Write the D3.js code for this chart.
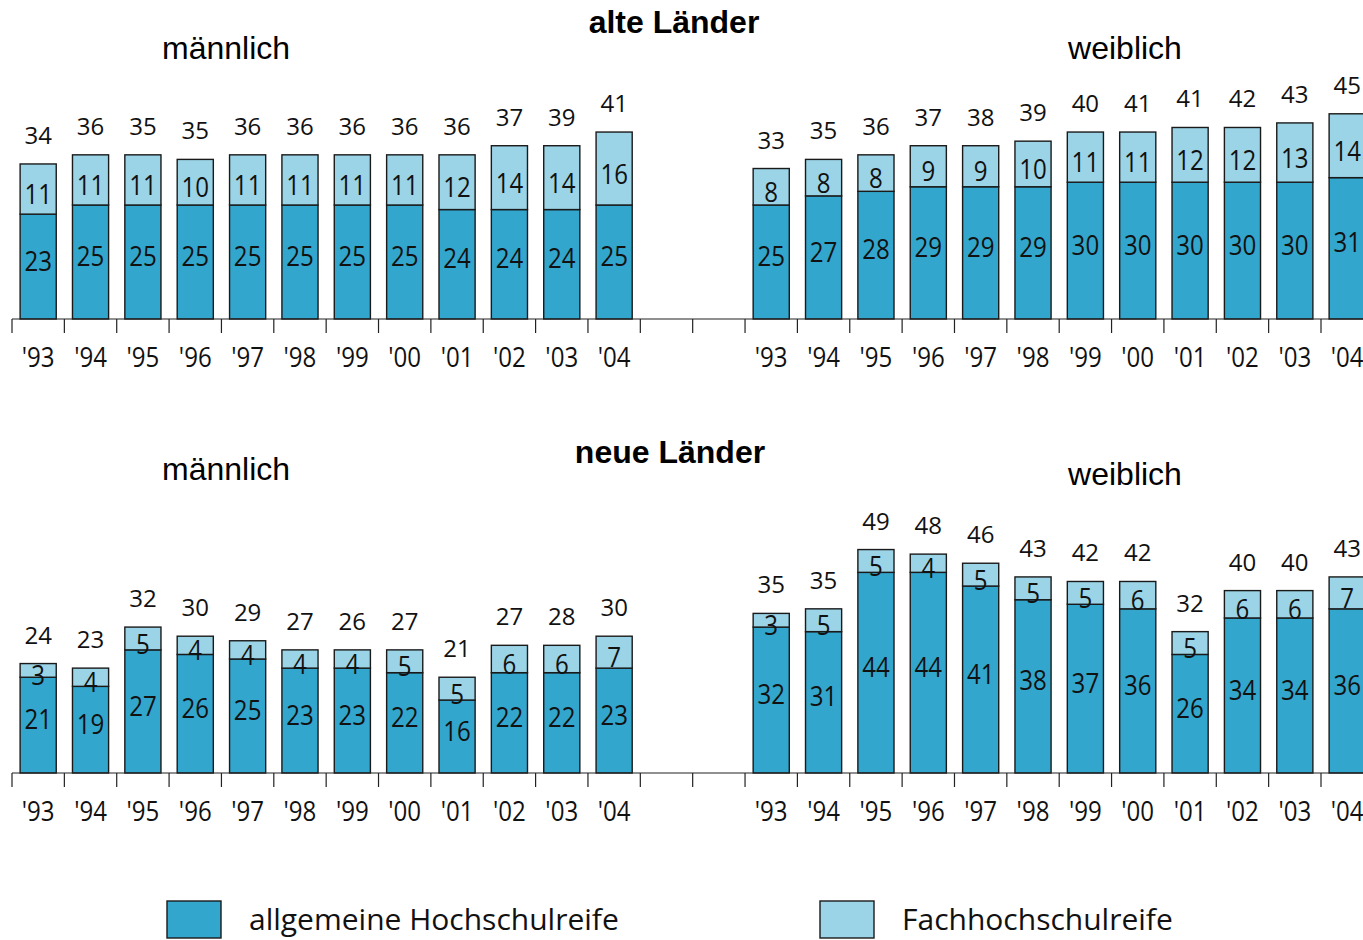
<!DOCTYPE html>
<html>
<head>
<meta charset="utf-8">
<script src="https://cdn.jsdelivr.net/npm/d3@7"></script>
<style>
  body { margin: 0; background: #fff; }
  svg { display: block; }
</style>
</head>
<body>
<svg id="chart"></svg>
<script>
var years = ["'93","'94","'95","'96","'97","'98","'99","'00","'01","'02","'03","'04"];
var seriesNames = ["allgemeine Hochschulreife", "Fachhochschulreife"];

// alte Länder
var alteMAllg  = [23,25,25,25,25,25,25,25,24,24,24,25];
var alteMFach  = [11,11,11,10,11,11,11,11,12,14,14,16];
var alteMTotal = [34,36,35,35,36,36,36,36,36,37,39,41];
var alteWAllg  = [25,27,28,29,29,29,30,30,30,30,30,31];
var alteWFach  = [8,8,8,9,9,10,11,11,12,12,13,14];
var alteWTotal = [33,35,36,37,38,39,40,41,41,42,43,45];

// neue Länder
var neueMAllg  = [21,19,27,26,25,23,23,22,16,22,22,23];
var neueMFach  = [3,4,5,4,4,4,4,5,5,6,6,7];
var neueMTotal = [24,23,32,30,29,27,26,27,21,27,28,30];
var neueWAllg  = [32,31,44,44,41,38,37,36,26,34,34,36];
var neueWFach  = [3,5,5,4,5,5,5,6,5,6,6,7];
var neueWTotal = [35,35,49,48,46,43,42,42,32,40,40,43];

var width = 1363, height = 940;
var darkBlue = "#33a6cd", lightBlue = "#9bd4e6";
var numFont = "'Open Sans', sans-serif";
var sansFont = "'Liberation Sans', Arial, sans-serif";

var svg = d3.select("#chart").attr("width", width).attr("height", height);

// 26 Plätze: 12 männlich, 2 leer, 12 weiblich
var slots = years.map(function(y){ return "m" + y; })
  .concat(["gap1","gap2"])
  .concat(years.map(function(y){ return "w" + y; }));
var x = d3.scaleBand().domain(slots).range([12, 12 + 26 * 52.36]).paddingInner(0.31).paddingOuter(0.155);
var step = x.step();

function rows(prefix, allg, fach, total){
  return years.map(function(y, i){
    return {key: prefix + y, year: y, allg: allg[i], fach: fach[i], total: total[i]};
  });
}

function panel(opts){
  var base = opts.baseline;
  var y = d3.scaleLinear().domain([0, 50]).range([base, base - 228]);
  var g = svg.append("g");
  var data = rows("m", opts.m[0], opts.m[1], opts.m[2]).concat(rows("w", opts.w[0], opts.w[1], opts.w[2]));
  var stacked = d3.stack().keys(["allg","fach"])(data);
  var colors = [darkBlue, lightBlue];
  var shift = [-6, 5]; // Beschriftung leicht versetzt wie im Original

  stacked.forEach(function(layer, li){
    g.append("g").selectAll("rect").data(layer).enter().append("rect")
      .attr("x", function(d){ return x(d.data.key); })
      .attr("width", x.bandwidth())
      .attr("y", function(d){ return y(d[1]); })
      .attr("height", function(d){ return y(d[0]) - y(d[1]); })
      .attr("fill", colors[li])
      .attr("stroke", "#1a1a1a")
      .attr("stroke-width", 1.4);
    g.append("g").selectAll("text").data(layer).enter().append("text")
      .attr("transform", function(d){
        var cx = x(d.data.key) + x.bandwidth() / 2;
        var cy = (y(d[0]) + y(d[1])) / 2 + shift[li];
        return "translate(" + cx + "," + cy + ") scale(0.86,1)";
      })
      .attr("dy", "0.36em")
      .attr("text-anchor", "middle")
      .attr("font-family", numFont)
      .attr("font-size", 28)
      .attr("fill", "#111")
      .text(function(d){ return li === 0 ? d.data.allg : d.data.fach; });
  });

  // Summen über den Balken
  g.append("g").selectAll("text").data(data).enter().append("text")
    .attr("x", function(d){ return x(d.key) + x.bandwidth() / 2; })
    .attr("y", function(d){ return y(d.allg + d.fach) - 20; })
    .attr("text-anchor", "middle")
    .attr("font-family", numFont)
    .attr("font-size", 24)
    .attr("fill", "#111")
    .text(function(d){ return d.total; });

  // Grundlinie und Teilstriche
  g.append("line")
    .attr("x1", 12).attr("x2", width)
    .attr("y1", base).attr("y2", base)
    .attr("stroke", "#222").attr("stroke-width", 1.2);
  g.append("g").selectAll("line").data(d3.range(27)).enter().append("line")
    .attr("x1", function(i){ return 12 + i * step; })
    .attr("x2", function(i){ return 12 + i * step; })
    .attr("y1", base).attr("y2", base + 14)
    .attr("stroke", "#222").attr("stroke-width", 1.2);

  var axis = d3.axisBottom(x).tickSize(0).tickPadding(0)
    .tickValues(data.map(function(d){ return d.key; }))
    .tickFormat(function(k){ return k.slice(1); });
  var ax = g.append("g").attr("transform", "translate(0," + (base + 48) + ")").call(axis);
  ax.select(".domain").remove();
  ax.selectAll("text")
    .attr("y", 0).attr("dy", 0)
    .attr("transform", "scale(0.86,1)")
    .attr("font-family", numFont)
    .attr("font-size", 28)
    .attr("fill", "#111");

  svg.append("text")
    .attr("x", opts.titleX).attr("y", opts.titleY)
    .attr("text-anchor", "middle")
    .attr("font-family", sansFont)
    .attr("font-weight", "bold")
    .attr("font-size", 32)
    .text(opts.title);
  svg.append("text")
    .attr("x", 226).attr("y", opts.mY)
    .attr("text-anchor", "middle")
    .attr("font-family", sansFont)
    .attr("font-size", 32)
    .text("männlich");
  svg.append("text")
    .attr("x", 1125).attr("y", opts.wY)
    .attr("text-anchor", "middle")
    .attr("font-family", sansFont)
    .attr("font-size", 32)
    .text("weiblich");
}

panel({baseline: 319, title: "alte Länder", titleX: 674, titleY: 33, mY: 59, wY: 59,
  m: [alteMAllg, alteMFach, alteMTotal], w: [alteWAllg, alteWFach, alteWTotal]});
panel({baseline: 773, title: "neue Länder", titleX: 670, titleY: 463, mY: 480, wY: 485,
  m: [neueMAllg, neueMFach, neueMTotal], w: [neueWAllg, neueWFach, neueWTotal]});

// Legende
var legend = svg.append("g").selectAll("g").data(seriesNames).enter().append("g")
  .attr("transform", function(d, i){ return "translate(" + [167, 820][i] + ",901)"; });
legend.append("rect")
  .attr("width", 54).attr("height", 37)
  .attr("fill", function(d, i){ return [darkBlue, lightBlue][i]; })
  .attr("stroke", "#1a1a1a").attr("stroke-width", 1.4);
legend.append("text")
  .attr("x", 82).attr("y", 29)
  .attr("font-family", numFont)
  .attr("font-size", 30)
  .attr("fill", "#111")
  .text(function(d){ return d; });
</script>
</body>
</html>
